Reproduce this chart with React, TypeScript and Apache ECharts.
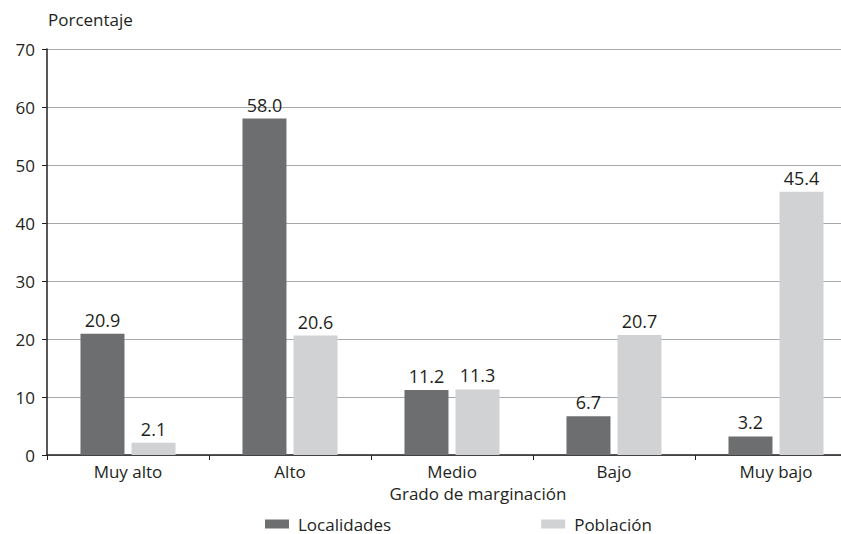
import React, { useEffect, useRef } from "react";
import * as echarts from "echarts";

const categories = ["Muy alto", "Alto", "Medio", "Bajo", "Muy bajo"];
const localidades = [20.9, 58.0, 11.2, 6.7, 3.2];
const poblacion = [2.1, 20.6, 11.3, 20.7, 45.4];
const yTicks = [0, 10, 20, 30, 40, 50, 60, 70];

const FONT = "'Open Sans', 'Noto Sans', sans-serif";
const TXT = "#231f20";
const FS = 17;

export default function App() {
  const ref = useRef<HTMLDivElement>(null);
  useEffect(() => {
    if (!ref.current) return;
    const chart = echarts.init(ref.current, undefined, { renderer: "svg" });
    const labelCfg = {
      show: true,
      position: "top",
      distance: 5,
      color: TXT,
      fontSize: 18,
      fontFamily: FONT,
      formatter: (p: any) => Number(p.value).toFixed(1),
    };
    chart.setOption({
      animation: false,
      textStyle: { fontFamily: FONT, color: TXT },
      grid: {
        left: 47,
        width: 810,
        top: 49,
        height: 406,
        containLabel: false,
        outerBoundsMode: "none",
      },
      graphic: [
        {
          type: "text",
          x: 48,
          y: 11,
          style: { text: "Porcentaje", fontSize: FS, fontFamily: FONT, fill: TXT },
        },
        {
          type: "text",
          x: 478,
          y: 485,
          style: {
            text: "Grado de marginación",
            fontSize: FS,
            fontFamily: FONT,
            fill: TXT,
            align: "center",
          },
        },
      ],
      legend: {
        top: 512,
        left: 260,
        padding: [3, 5, 0, 5],
        itemWidth: 24,
        itemHeight: 9,
        itemGap: 150,
        icon: "rect",
        textStyle: {
          fontSize: FS,
          lineHeight: 18,
          fontFamily: FONT,
          color: TXT,
          padding: [0, 0, 0, 4],
        },
        data: ["Localidades", "Población"],
      },
      xAxis: {
        type: "category",
        data: categories,
        axisLine: { lineStyle: { color: "#231f20", width: 1.5 } },
        axisTick: { show: true, length: 5, lineStyle: { color: "#231f20" } },
        axisLabel: { fontSize: FS, fontFamily: FONT, color: TXT, margin: 8 },
      },
      yAxis: {
        type: "value",
        min: 0,
        max: 70,
        interval: 10,
        axisLine: { show: true, lineStyle: { color: "#231f20", width: 1.5 } },
        axisTick: { show: true, length: 5, lineStyle: { color: "#231f20" } },
        axisLabel: {
          fontSize: FS,
          fontFamily: FONT,
          color: TXT,
          margin: 12,
          formatter: (v: number) => (yTicks.includes(v) ? String(v) : ""),
        },
        splitLine: { show: true, lineStyle: { color: "#a7a9ac", width: 1 } },
      },
      series: [
        {
          name: "Localidades",
          type: "bar",
          data: localidades,
          barWidth: 44,
          barGap: "16%",
          itemStyle: { color: "#6d6e70" },
          label: labelCfg,
        },
        {
          name: "Población",
          type: "bar",
          data: poblacion,
          barWidth: 44,
          itemStyle: { color: "#d1d2d4" },
          label: labelCfg,
        },
      ],
    });
    return () => chart.dispose();
  }, []);
  return <div ref={ref} style={{ width: 841, height: 534, position: "absolute", left: 0, top: 0 }} />;
}
